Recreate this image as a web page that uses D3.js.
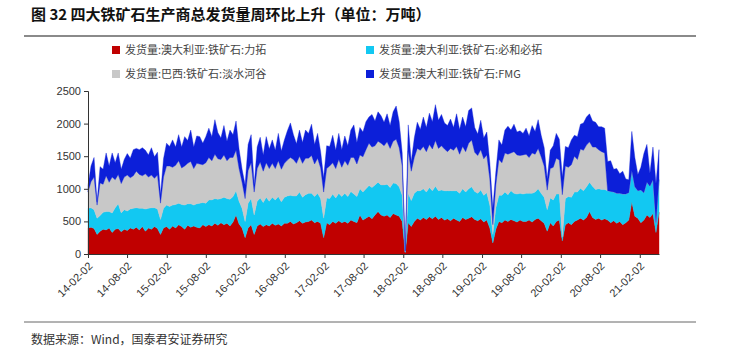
<!DOCTYPE html>
<html><head><meta charset="utf-8">
<script src="https://cdn.jsdelivr.net/npm/d3@7"></script>
<style>
body{margin:0;background:#fff;}
svg{display:block;}
</style></head>
<body>
<svg id="chart" width="753" height="355"></svg>
<script>
// ---- data ----
const startDate = "2014-02-02";   // first (bi-weekly) observation
const stepDays = 14;
const xTickLabels = ["14-02-02","14-08-02","15-02-02","15-08-02","16-02-02","16-08-02","17-02-02","17-08-02","18-02-02","18-08-02","19-02-02","19-08-02","20-02-02","20-08-02","21-02-02"];
const yTicks = [0,500,1000,1500,2000,2500];
const seriesNames = ["发货量:澳大利亚:铁矿石:力拓","发货量:澳大利亚:铁矿石:必和必拓","发货量:巴西:铁矿石:淡水河谷","发货量:澳大利亚:铁矿石:FMG"];
const seriesColors = ["#c00000","#12c8f2","#c8c8c8","#0c1fd9"];

const rioTinto = [400,410,390,300,350,380,370,400,330,380,390,340,380,
360,400,380,410,370,420,350,400,380,420,390,300,400,
420,380,430,400,450,420,380,440,410,430,410,400,450,420,
450,430,470,440,480,450,470,430,490,600,460,400,250,
400,450,300,430,460,420,450,430,470,440,460,430,470,
470,500,460,480,510,470,490,500,520,480,500,470,250,
480,450,500,470,510,480,500,470,520,500,480,600,520,
550,580,540,600,650,600,580,600,560,620,600,580,500,20,
480,420,500,550,520,560,530,570,540,580,530,560,520,
540,510,550,520,500,560,530,550,570,530,510,540,490,
520,400,170,380,500,480,520,500,530,510,490,520,500,
500,520,490,530,550,510,470,350,480,430,500,520,200,450,
480,450,500,520,550,520,560,650,560,530,550,520,540,
520,480,510,470,500,450,480,520,800,580,550,480,520,
600,560,620,330,640];

const bhp = [300,300,290,250,240,260,280,250,300,330,380,290,300,
300,290,320,300,330,280,340,300,330,290,300,230,300,
330,350,320,360,330,340,370,330,360,320,360,380,340,360,
380,400,380,400,370,420,380,410,390,370,350,300,250,
380,400,300,380,400,370,420,380,400,390,420,370,400,
420,400,430,410,440,400,420,430,410,400,430,380,300,
380,400,420,390,420,400,430,410,440,420,400,400,430,
450,470,480,460,450,460,480,470,460,470,480,450,400,10,
450,400,430,420,450,440,420,450,430,460,440,420,450,
430,460,420,450,430,440,420,450,460,430,420,440,410,
420,350,130,330,400,420,430,410,440,420,430,410,420,
430,410,440,420,450,420,400,330,380,400,420,400,60,400,
400,420,450,430,460,450,470,450,480,460,450,470,450,
450,480,440,460,430,470,440,420,480,450,420,500,420,
500,480,520,150,500];

const vale = [250,400,500,200,500,430,550,450,550,430,450,450,500,
550,480,500,560,520,500,540,480,500,450,520,250,480,
600,620,580,600,650,560,600,620,650,560,620,600,580,620,
650,600,680,620,600,650,580,640,600,620,500,400,350,
500,550,350,500,550,480,530,500,520,480,550,500,520,
550,580,560,500,550,520,560,540,580,500,540,470,400,
450,500,480,450,520,450,500,480,520,560,500,520,540,
600,650,620,600,630,640,600,650,600,640,680,600,450,10,
650,450,550,650,620,650,620,660,640,700,650,680,640,
600,650,620,680,600,650,620,700,720,600,580,620,560,
580,400,150,350,550,500,600,620,580,640,600,580,600,
600,550,620,580,620,560,480,300,450,500,550,520,650,500,
450,500,550,500,600,620,640,620,600,650,600,580,560,
0,0,0,0,0,0,0,0,0,0,0,0,0,
0,0,0,0,0];

const fmg = [100,240,300,50,250,230,350,250,370,260,330,220,270,
330,300,400,350,380,430,360,340,420,330,350,130,280,
350,300,420,280,400,320,450,350,480,330,420,420,330,400,
450,370,530,400,330,450,300,420,350,450,300,200,210,
400,430,110,330,380,250,400,300,360,280,420,280,360,
450,530,380,300,400,320,430,380,480,300,380,250,220,
350,300,420,280,400,270,380,300,420,500,330,420,380,
430,400,500,380,450,420,360,430,350,450,510,400,200,10,
400,150,300,400,320,450,370,480,420,550,430,480,400,
400,450,350,500,380,450,380,500,490,380,330,450,320,
350,250,250,200,300,270,350,430,350,420,350,380,330,
400,330,420,350,440,330,280,170,280,330,380,320,270,300,
300,380,320,350,380,420,430,430,400,380,350,380,380,
450,470,350,380,300,350,230,200,600,450,250,350,600,
580,200,500,600,460];

// ---- build ----
const parseIso = d3.timeParse("%Y-%m-%d");
const parseTick = d3.timeParse("%y-%m-%d");
const n = rioTinto.length;
const dates = d3.range(n).map(i => d3.timeDay.offset(parseIso(startDate), i * stepDays));
const keys = ["r","c","g","f"];
const rows = dates.map((d,i)=>({date:d, r:rioTinto[i], c:bhp[i], g:vale[i], f:fmg[i]}));
const stacked = d3.stack().keys(keys)(rows);

const svg = d3.select("#chart");
const fontLat = "Arial, 'Liberation Sans', sans-serif";
const fontCJK = "'Noto Sans CJK SC', sans-serif";

// title
svg.append("text").attr("x",31).attr("y",20)
  .attr("font-family",fontCJK).attr("font-weight","bold").attr("font-size",15).attr("fill","#111")
  .text("图 32  四大铁矿石生产商总发货量周环比上升（单位：万吨）");
svg.append("line").attr("x1",24).attr("x2",696).attr("y1",36).attr("y2",36)
  .attr("stroke","#8a8a8a").attr("stroke-width",2);

// legend
const legPos = [[112,50],[366,50],[112,74],[366,74]];
seriesNames.forEach((name,i)=>{
  const [lx,ly] = legPos[i];
  svg.append("rect").attr("x",lx).attr("y",ly-4).attr("width",8).attr("height",8).attr("fill",seriesColors[i]);
  svg.append("text").attr("x",lx+13).attr("y",ly).attr("dy","0.35em")
    .attr("font-family",fontCJK).attr("font-size",11).attr("fill","#444").text(name);
});

// scales
const x = d3.scaleTime().domain([dates[0], dates[n-1]]).range([88, 659]);
const y = d3.scaleLinear().domain([0,2500]).range([254, 91]);

const area = d3.area()
  .x(d => x(d.data.date))
  .y0(d => y(d[0]))
  .y1(d => y(d[1]));

svg.append("g").selectAll("path").data(stacked).join("path")
  .attr("d", area)
  .attr("fill", (d,i)=>seriesColors[i])
  .attr("stroke", (d,i)=>seriesColors[i])
  .attr("stroke-width",0.4);

// axes
const yAxis = d3.axisLeft(y).tickValues(yTicks).tickSize(4).tickPadding(3).tickFormat(d3.format("d"));
const gy = svg.append("g").attr("transform","translate(88,0)").call(yAxis);
gy.selectAll("text").attr("font-family",fontLat).attr("font-size",11).attr("fill","#333");
gy.selectAll("line,path").attr("stroke","#333");

const tickDates = xTickLabels.map(parseTick);
const xAxis = d3.axisBottom(x).tickValues(tickDates).tickSize(4).tickSizeOuter(0)
  .tickFormat((d,i)=>xTickLabels[i]);
const gx = svg.append("g").attr("transform","translate(0,254)").call(xAxis);
gx.selectAll("line,path").attr("stroke","#333");
gx.selectAll("text")
  .attr("font-family",fontLat).attr("font-size",11).attr("fill","#333")
  .attr("text-anchor","end").attr("x",0).attr("y",0).attr("dy","0.35em")
  .attr("transform","translate(2,10) rotate(-45)");

// footer
svg.append("line").attr("x1",24).attr("x2",696).attr("y1",322).attr("y2",322)
  .attr("stroke","#666").attr("stroke-width",1);
svg.append("text").attr("x",31).attr("y",344)
  .attr("font-family",fontCJK).attr("font-size",12).attr("fill","#333")
  .text("数据来源：Wind，国泰君安证券研究");
</script>
</body></html>
